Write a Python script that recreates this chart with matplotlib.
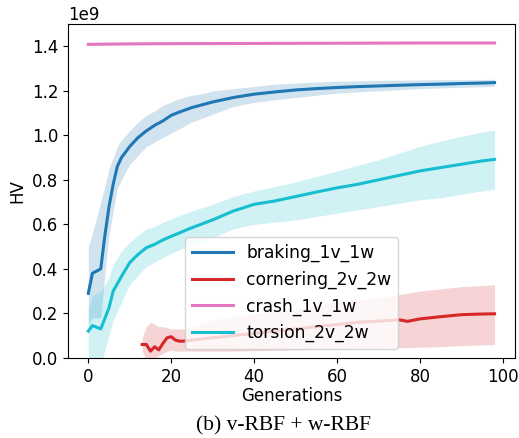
import numpy as np
import matplotlib
matplotlib.use("Agg")
import matplotlib.pyplot as plt

# values, in units of 1e9
braking_gen = [0, 1, 3, 4, 5, 6, 7, 8, 10, 12, 14, 16, 18, 20, 22, 25, 28, 30, 35, 40,
               45, 50, 55, 60, 65, 70, 75, 80, 85, 90, 95, 98]
braking_mean = [0.29, 0.38, 0.40, 0.55, 0.68, 0.78, 0.86, 0.90, 0.95, 0.99, 1.02, 1.045,
                1.065, 1.09, 1.105, 1.125, 1.14, 1.15, 1.17, 1.185, 1.195, 1.204, 1.21,
                1.215, 1.219, 1.222, 1.225, 1.228, 1.23, 1.233, 1.235, 1.237]
braking_lo = [0.15, 0.18, 0.18, 0.38, 0.55, 0.66, 0.76, 0.80, 0.87, 0.91, 0.95, 0.97,
              0.99, 1.01, 1.03, 1.06, 1.08, 1.095, 1.13, 1.148, 1.16, 1.17, 1.18, 1.19,
              1.195, 1.2, 1.205, 1.21, 1.213, 1.216, 1.218, 1.22]
braking_hi = [0.50, 0.56, 0.70, 0.77, 0.85, 0.90, 0.95, 0.98, 1.02, 1.06, 1.09, 1.11,
              1.135, 1.15, 1.165, 1.18, 1.19, 1.20, 1.21, 1.22, 1.23, 1.235, 1.24, 1.243,
              1.245, 1.247, 1.248, 1.249, 1.25, 1.25, 1.251, 1.252]

corner_gen = [13, 14, 15, 16, 17, 18, 19, 20, 21, 22, 23, 25, 30, 35, 40, 45, 50, 55,
              60, 65, 70, 75, 77, 80, 85, 90, 95, 98]
corner_mean = [0.06, 0.06, 0.03, 0.05, 0.036, 0.065, 0.09, 0.095, 0.08, 0.075, 0.075,
               0.08, 0.09, 0.10, 0.11, 0.12, 0.13, 0.14, 0.15, 0.16, 0.165, 0.171, 0.164,
               0.175, 0.185, 0.194, 0.197, 0.198]
corner_lo = [0.03, -0.01, -0.02, 0.0, 0.01, 0.02, 0.03, 0.035, 0.03, 0.03, 0.03, 0.03,
             0.03, 0.03, 0.032, 0.034, 0.036, 0.038, 0.04, 0.042, 0.043, 0.045, 0.046,
             0.048, 0.05, 0.055, 0.058, 0.06]
corner_hi = [0.09, 0.14, 0.16, 0.15, 0.14, 0.14, 0.135, 0.13, 0.13, 0.13, 0.13, 0.14,
             0.17, 0.185, 0.2, 0.21, 0.22, 0.235, 0.25, 0.26, 0.27, 0.284, 0.29, 0.30,
             0.31, 0.32, 0.325, 0.329]

crash_gen = [0, 10, 20, 40, 60, 80, 98]
crash_mean = [1.409, 1.411, 1.412, 1.413, 1.414, 1.415, 1.415]

torsion_gen = [0, 1, 3, 5, 6, 8, 10, 12, 14, 16, 18, 20, 25, 30, 35, 40, 45, 50, 55, 60,
               65, 70, 75, 80, 85, 90, 95, 98]
torsion_mean = [0.12, 0.145, 0.13, 0.225, 0.30, 0.366, 0.428, 0.465, 0.495, 0.51, 0.53,
                0.546, 0.585, 0.62, 0.66, 0.69, 0.705, 0.725, 0.745, 0.764, 0.78, 0.80,
                0.82, 0.84, 0.855, 0.87, 0.885, 0.892]
torsion_lo = [-0.05, -0.05, -0.03, 0.10, 0.17, 0.25, 0.33, 0.37, 0.41, 0.43, 0.45, 0.47,
              0.51, 0.54, 0.58, 0.60, 0.61, 0.62, 0.635, 0.65, 0.665, 0.68, 0.695, 0.71,
              0.72, 0.735, 0.75, 0.757]
torsion_hi = [0.22, 0.28, 0.30, 0.36, 0.42, 0.48, 0.52, 0.55, 0.58, 0.59, 0.61, 0.625,
              0.66, 0.69, 0.725, 0.75, 0.77, 0.79, 0.815, 0.84, 0.865, 0.89, 0.92, 0.95,
              0.975, 0.995, 1.015, 1.024]

labels = ["braking_1v_1w", "cornering_2v_2w", "crash_1v_1w", "torsion_2v_2w"]
colors = ["#1f77b4", "#d62728", "#e377c2", "#17becf"]

series = [
    (braking_gen, braking_mean, braking_lo, braking_hi),
    (corner_gen, corner_mean, corner_lo, corner_hi),
    (crash_gen, crash_mean, None, None),
    (torsion_gen, torsion_mean, torsion_lo, torsion_hi),
]

fig = plt.figure(figsize=(5.19, 4.38), dpi=100)
ax = fig.add_axes([0.131, 0.183, 0.861, 0.762])

for (g, m, lo, hi), lab, c in zip(series, labels, colors):
    g = np.array(g)
    ax.plot(g, np.array(m) * 1e9, color=c, lw=2.2, label=lab)
    if lo is not None:
        ax.fill_between(g, np.array(lo) * 1e9, np.array(hi) * 1e9, color=c, alpha=0.2, lw=0)

ax.set_ylim(0, 1.5e9)
ax.set_xlim(-4.9, 102.9)
ax.set_xticks([0, 20, 40, 60, 80, 100])
ax.tick_params(labelsize=12)
ax.yaxis.get_offset_text().set_fontsize(12)
ax.set_xlabel("Generations", fontsize=12, labelpad=1)
ax.set_ylabel("HV", fontsize=12)
ax.legend(loc="lower center", fontsize=12.3, handlelength=2.4)

fig.text(0.547, 0.018, "(b) v-RBF + w-RBF", ha="center", fontsize=15.5,
         family=["Liberation Serif", "DejaVu Serif"])

fig.savefig("out.png", dpi=100)
